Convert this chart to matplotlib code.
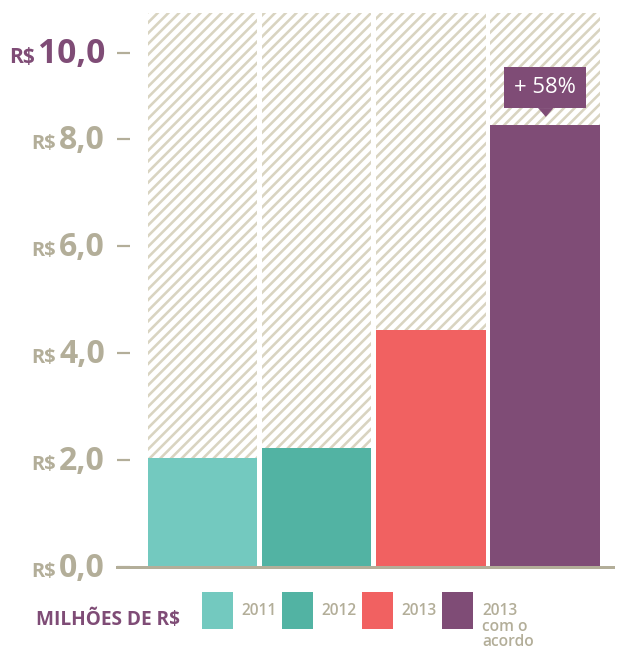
import numpy as np
import matplotlib
matplotlib.use("Agg")
import matplotlib.pyplot as plt
from matplotlib import transforms as mtransforms

plt.rcParams['font.family'] = ['Open Sans', 'DejaVu Sans']
plt.rcParams['hatch.linewidth'] = 2.9

# data
categories = ['2011', '2012', '2013', '2013']
values = [2.04, 2.22, 4.43, 8.32]
colors = ['#73c9bf', '#52b3a3', '#f16161', '#7f4c76']
tick_vals = [0, 2, 4, 6, 8, 10]
tick_nums = ['0,0', '2,0', '4,0', '6,0', '8,0', '10,0']
extra_label = 'com o\nacordo'
badge = '+ 58%'
unit_label = 'MILHÕES DE R$'

GRAY = '#b3ae99'
PURPLE = '#7f4c76'
HATCH = '#d9d4c1'

DPI = 64
W, H = 621, 648
PT = 72 / DPI  # points per pixel

fig = plt.figure(figsize=(W / DPI, H / DPI), dpi=DPI)
ax = fig.add_axes([117 / W, (H - 567) / H, (613 - 117) / W, (567 - 13) / H])

# the chart squeezes the 8-10 step a little
yk = [-10, 0, 8, 10, 30]
yd = [-10, 0, 8, 9.6, 29.6]
ax.set_yscale('function', functions=(lambda v: np.interp(v, yk, yd),
                                     lambda d: np.interp(d, yd, yk)))
ytop = 10.755
ax.set_ylim(0, ytop)
ax.set_xlim(-0.749, 3.596)

x = np.arange(len(values))
ax.bar(x, [ytop] * len(x), width=0.96, color='white', edgecolor=HATCH,
       hatch='//', linewidth=0, zorder=0)
bars = ax.bar(x, values, width=0.96, color=colors, linewidth=0, zorder=1)

for s in ['left', 'top', 'right']:
    ax.spines[s].set_visible(False)
ax.spines['bottom'].set_color(GRAY)
ax.spines['bottom'].set_linewidth(3 * PT)
ax.spines['bottom'].set_zorder(3)
ax.set_xticks([])
ax.set_yticks(tick_vals, labels=[''] * len(tick_vals))
ax.tick_params(axis='y', direction='in', length=13 * PT, width=2.2 * PT,
               color=GRAY)

ytr = ax.get_yaxis_transform()
for v, num in zip(tick_vals, tick_nums):
    big = v == 10
    col = PURPLE if big else GRAY
    t = ax.annotate(num, xy=(0, v), xycoords=ytr, xytext=(-12, -10),
                    textcoords='offset pixels', ha='right', va='baseline',
                    fontsize=(33.5 if big else 32) * PT, fontweight='bold',
                    color=col)
    ax.annotate('R$', xy=(0, v), xycoords=(t, ytr), xytext=(-3, -10),
                textcoords='offset pixels', ha='right', va='baseline',
                fontsize=(21 if big else 20) * PT, fontweight='bold',
                color=col)

# badge over the last bar
ax.annotate(badge, xy=(x[-1], values[-1]), xytext=(0, 38),
            textcoords='offset pixels', ha='center', va='center',
            fontsize=22 * PT, color='white',
            bbox=dict(boxstyle='square,pad=0.45', fc=PURPLE, ec='none'))
tri = mtransforms.offset_copy(ax.transData, fig=fig, x=0, y=13, units='dots')
ax.plot([x[-1]], [values[-1]], marker=[(-7, 4), (7, 4), (0, -4)],
        markersize=14 * PT, color=PURPLE, transform=tri, clip_on=False)

# legend
leg = fig.legend(bars, categories, loc='upper left',
                 bbox_to_anchor=(202 / W, 1 - 592 / H), ncol=4,
                 frameon=False, borderpad=0, borderaxespad=0,
                 prop=dict(size=15.5 * PT, weight='semibold'),
                 labelcolor=GRAY, handlelength=2.0, handleheight=3.3,
                 handletextpad=0.55, columnspacing=0.35)
t4 = leg.get_texts()[-1]
note = plt.Annotation(extra_label, xy=(0, 0), xycoords=t4,
                      xytext=(0, 0), textcoords='offset pixels',
                      ha='left', va='top', fontsize=15.5 * PT,
                      fontweight='semibold', color=GRAY, linespacing=0.95)
note.set_zorder(10)
fig.add_artist(note)

fig.text(36 / W, 1 - 625 / H, unit_label, ha='left', va='baseline',
         fontsize=19 * PT, fontweight='bold', color=PURPLE)

fig.savefig('out.png', dpi=DPI)
